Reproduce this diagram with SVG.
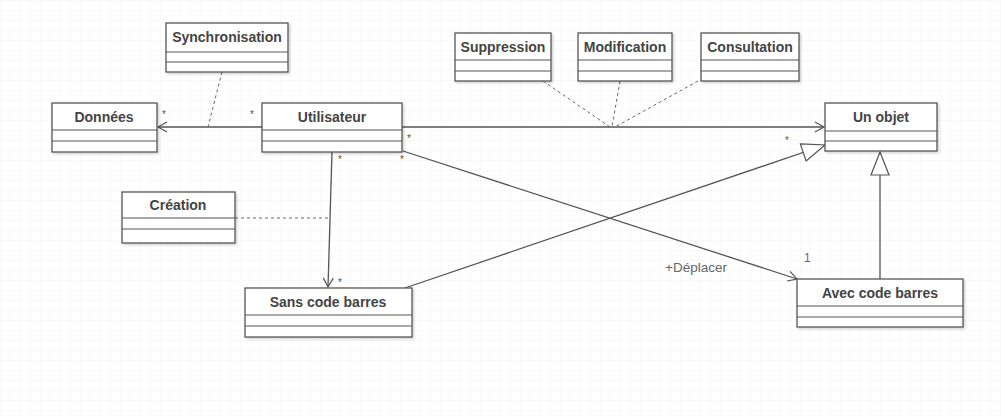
<svg xmlns="http://www.w3.org/2000/svg" width="1001" height="416" viewBox="0 0 1001 416">
<defs>
<pattern id="grid" width="10" height="10" patternUnits="userSpaceOnUse">
<path d="M10 0H0V10" fill="none" stroke="#f3f3f3" stroke-width="1"/>
</pattern>
<marker id="open" markerWidth="12" markerHeight="12" refX="10" refY="6" orient="auto" markerUnits="userSpaceOnUse">
<path d="M1 1L10 6L1 11" fill="none" stroke="#555" stroke-width="1.2"/>
</marker>
<marker id="tri" markerWidth="26" markerHeight="22" refX="24" refY="11" orient="auto" markerUnits="userSpaceOnUse">
<path d="M1 2L24 11L1 20Z" fill="#fff" stroke="#555" stroke-width="1.2"/>
</marker>
<filter id="sh" x="-10%" y="-10%" width="130%" height="140%">
<feDropShadow dx="1.5" dy="1.5" stdDeviation="1" flood-color="#000" flood-opacity="0.18"/>
</filter>
</defs>
<style>
.box{fill:#fff;stroke:#555;stroke-width:1.3;filter:url(#sh)}
.sep{stroke:#555;stroke-width:1.2}
.t{font-family:"Liberation Sans",Arial,sans-serif;font-size:14px;font-weight:bold;fill:#444;text-anchor:middle}
.ln{fill:none;stroke:#555;stroke-width:1.3}
.dash{fill:none;stroke:#666;stroke-width:1;stroke-dasharray:3 3}
.m{font-family:"Liberation Sans",Arial,sans-serif;font-size:10px;fill:#555}
.lbl{font-family:"Liberation Sans",Arial,sans-serif;font-size:13.5px;fill:#666}
</style>
<rect width="1001" height="416" fill="#fff"/>
<rect width="1001" height="416" fill="url(#grid)"/>

<g id="connectors">
<line class="ln" x1="262" y1="127" x2="158" y2="127" marker-end="url(#open)"/>
<line class="ln" x1="402" y1="127" x2="824" y2="127" marker-end="url(#open)"/>
<line class="ln" x1="332" y1="152" x2="328" y2="287" marker-end="url(#open)"/>
<line class="ln" x1="403" y1="151" x2="797" y2="279" marker-end="url(#open)"/>
<line class="ln" x1="405" y1="288" x2="825" y2="145" marker-end="url(#tri)"/>
<line class="ln" x1="880" y1="279" x2="880" y2="152" marker-end="url(#tri)"/>
<line class="dash" x1="222" y1="72" x2="208" y2="127"/>
<line class="dash" x1="543" y1="81" x2="610" y2="127"/>
<line class="dash" x1="620" y1="81" x2="612" y2="127"/>
<line class="dash" x1="698" y1="81" x2="615" y2="127"/>
<line class="dash" x1="235" y1="218" x2="330" y2="218"/>
<text class="m" x="162" y="118">*</text>
<text class="m" x="250" y="118">*</text>
<text class="m" x="407" y="142">*</text>
<text class="m" x="338" y="163">*</text>
<text class="m" x="400" y="163">*</text>
<text class="m" x="338" y="286">*</text>
<text class="m" x="785" y="144">*</text>
<text class="lbl" x="804" y="262" style="font-size:12px">1</text>
<text class="lbl" x="665" y="272">+Déplacer</text>
</g>

<g id="synchronisation">
<rect class="box" x="166" y="23" width="122" height="49"/>
<line class="sep" x1="166" y1="52" x2="288" y2="52"/>
<line class="sep" x1="166" y1="62" x2="288" y2="62"/>
<text class="t" x="227" y="42">Synchronisation</text>
</g>
<g id="donnees">
<rect class="box" x="52" y="103" width="105" height="49"/>
<line class="sep" x1="52" y1="130" x2="157" y2="130"/>
<line class="sep" x1="52" y1="141" x2="157" y2="141"/>
<text class="t" x="104" y="122">Données</text>
</g>
<g id="utilisateur">
<rect class="box" x="262" y="103" width="140" height="49"/>
<line class="sep" x1="262" y1="130" x2="402" y2="130"/>
<line class="sep" x1="262" y1="141" x2="402" y2="141"/>
<text class="t" x="332" y="122">Utilisateur</text>
</g>
<g id="suppression">
<rect class="box" x="455" y="33" width="96" height="48"/>
<line class="sep" x1="455" y1="60" x2="551" y2="60"/>
<line class="sep" x1="455" y1="71" x2="551" y2="71"/>
<text class="t" x="503" y="52">Suppression</text>
</g>
<g id="modification">
<rect class="box" x="578" y="33" width="94" height="48"/>
<line class="sep" x1="578" y1="60" x2="672" y2="60"/>
<line class="sep" x1="578" y1="71" x2="672" y2="71"/>
<text class="t" x="625" y="52">Modification</text>
</g>
<g id="consultation">
<rect class="box" x="701" y="33" width="98" height="48"/>
<line class="sep" x1="701" y1="60" x2="799" y2="60"/>
<line class="sep" x1="701" y1="71" x2="799" y2="71"/>
<text class="t" x="750" y="52">Consultation</text>
</g>
<g id="un-objet">
<rect class="box" x="825" y="103" width="112" height="48"/>
<line class="sep" x1="825" y1="131" x2="937" y2="131"/>
<line class="sep" x1="825" y1="141" x2="937" y2="141"/>
<text class="t" x="881" y="122">Un objet</text>
</g>
<g id="creation">
<rect class="box" x="122" y="192" width="113" height="51"/>
<line class="sep" x1="122" y1="218" x2="235" y2="218"/>
<line class="sep" x1="122" y1="229" x2="235" y2="229"/>
<text class="t" x="178" y="210">Création</text>
</g>
<g id="sans-code-barres">
<rect class="box" x="245" y="288" width="167" height="49"/>
<line class="sep" x1="245" y1="315" x2="412" y2="315"/>
<line class="sep" x1="245" y1="326" x2="412" y2="326"/>
<text class="t" x="328" y="307">Sans code barres</text>
</g>
<g id="avec-code-barres">
<rect class="box" x="797" y="279" width="166" height="48"/>
<line class="sep" x1="797" y1="306" x2="963" y2="306"/>
<line class="sep" x1="797" y1="317" x2="963" y2="317"/>
<text class="t" x="880" y="298">Avec code barres</text>
</g>
</svg>
